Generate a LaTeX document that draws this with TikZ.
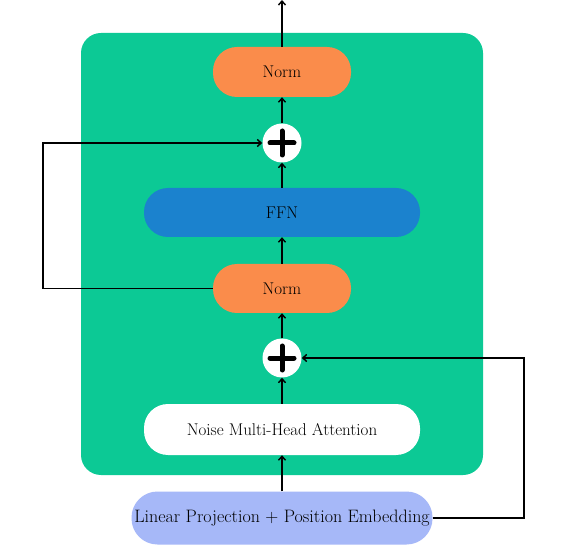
\documentclass[tikz,border=0pt]{standalone}
\usetikzlibrary{arrows.meta}
\definecolor{panelgreen}{RGB}{12,201,149}
\definecolor{normorange}{RGB}{250,140,75}
\definecolor{ffnblue}{RGB}{27,130,206}
\definecolor{linblue}{RGB}{166,184,248}
\tikzset{
  pill/.style={rounded corners=24pt, inner sep=0pt, font=\fontsize{17}{20}\selectfont},
  conn/.style={line width=1.6pt, -{Straight Barb[length=4pt,width=7pt,line width=1.4pt]}},
  addnode/.style={circle, fill=white, minimum size=39pt, inner sep=0pt},
}
\begin{document}
\begin{tikzpicture}[x=1pt,y=-1pt]
\useasboundingbox[fill=white] (0,0) rectangle (573,545);
\fill[panelgreen, rounded corners=20pt] (81,33) rectangle (483,475);

\node[pill, fill=normorange, minimum width=138pt, minimum height=50pt] (norm2) at (282,72) {Norm};
\node[addnode] (add2) at (282,143) {};
\node[pill, fill=ffnblue, minimum width=276pt, minimum height=49pt] (ffn) at (282,212.5) {FFN};
\node[pill, fill=normorange, minimum width=138pt, minimum height=49pt] (norm1) at (282,288.5) {Norm};
\node[addnode] (add1) at (282,358) {};
\node[pill, fill=white, minimum width=276pt, minimum height=51pt] (att) at (282,429.5) {Noise Multi-Head Attention};
\node[pill, fill=linblue, minimum width=301pt, minimum height=53pt, rounded corners=26pt, font=\fontsize{18}{21}\selectfont] (lin) at (282,518) {Linear Projection + Position Embedding};
\coordinate (out) at (282,0);

\foreach \n in {add1,add2}{
  \draw[line width=5pt, line cap=round] ([xshift=-12pt]\n.center) -- ([xshift=12pt]\n.center);
  \draw[line width=5pt, line cap=round] ([yshift=-12pt]\n.center) -- ([yshift=12pt]\n.center);
}

\draw[conn] (lin) -- (att);
\draw[conn] (att) -- (add1);
\draw[conn] (add1) -- (norm1);
\draw[conn] (norm1) -- (ffn);
\draw[conn] (ffn) -- (add2);
\draw[conn] (add2) -- (norm2);
\draw[conn] (norm2) -- (out);

\draw[conn] (norm1.west) -- (43,288.5) -- (43,143) -- (add2.west);
\draw[conn] (lin.east) -- (524,518) -- (524,358) -- (add1.east);
\end{tikzpicture}
\end{document}
